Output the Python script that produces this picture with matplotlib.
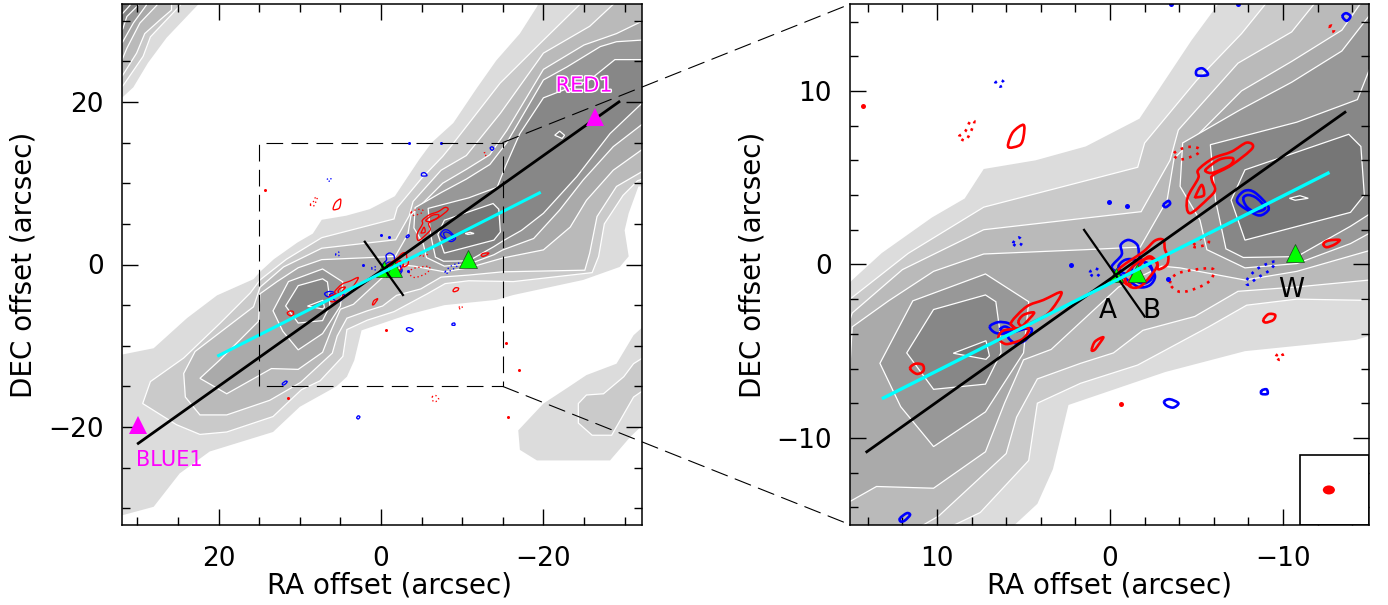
import matplotlib
matplotlib.use("Agg")
import matplotlib.pyplot as plt
from matplotlib.patches import Polygon, Rectangle, Ellipse, ConnectionPatch, PathPatch
from matplotlib.path import Path
from matplotlib.ticker import MultipleLocator, FuncFormatter
import matplotlib.patheffects as pe

# ---- grey map contours (RA, DEC in arcsec) ----
L1_MAIN = [(33,-11.3),(28,-10.3),(23.9,-6.6),(20.2,-3.8),(15.7,-1.8),(14.9,-0.9),(13.2,0.65),(10.3,2.7),(8.4,3.8),(7.3,5.5),(4.3,6),(1.4,6.8),(-1.7,8.4),(-4.7,12.9),(-6.25,15),(-8.9,17.4),(-11.8,21.7),(-14.2,25.1),(-17.1,28.4),(-19.2,31.7),(-19.8,33),(-33,33),(-33,9.6),(-31.7,9.6),(-30.5,6.3),(-30,4.2),(-30.5,1),(-29.4,-0.3),(-24.9,-1.9),(-16.3,-3.75),(-14.2,-4.35),(-7.8,-5),(-3.2,-6.2),(2.4,-8.1),(3.3,-11.8),(4.2,-13.8),(5.5,-15),(10,-17.5),(13.3,-20.6),(21.1,-23),(24.8,-25.7),(28,-29.8),(31.7,-30.8),(33,-31)]
L2_MAIN = [(29.35,-17.1),(28.4,-14.4),(24.3,-11.5),(19.8,-7.2),(16.1,-3.5),(14.9,-1.9),(11.66,0.64),(7.3,3.3),(-1.6,5.6),(-2,7),(-5,10.6),(-7.6,13.3),(-8.9,14.9),(-14.66,22.3),(-19.6,27.2),(-24.5,32),(-25.5,33),(-33,33),(-33,10.8),(-31.6,10.3),(-29.8,8.5),(-27.5,5),(-26.8,1),(-26,-1),(-16.3,-2.1),(-10.8,-2),(-7.9,-2.35),(-5.7,-3.6),(-1.6,-5.8),(1.7,-6.85),(4.2,-8),(4.7,-11.3),(7.5,-14.3),(9.8,-15.4),(13.3,-18.7),(19,-20.6),(22.3,-20.9),(25.2,-19.7)]
L3_MAIN = [(24.3,-13.4),(22.9,-10.7),(15.7,-5.2),(14.9,-2.8),(12,-0.3),(7.3,2),(-1.8,3.04),(-3.47,6),(-3.95,7.75),(-7.4,11.6),(-10.5,13.4),(-14.7,18.6),(-20,26),(-25.7,29.3),(-28.6,32),(-29.5,33),(-33,33),(-33,11),(-32.1,11.4),(-29,9.6),(-26.6,5.9),(-25.7,1.4),(-25.1,-0.7),(-15,-0.9),(-10.8,-1.3),(-7.4,-1.55),(-4.9,-3),(-1.9,-3.8),(-0.2,-5.1),(1.7,-5.7),(4.2,-6.6),(5.4,-8.8),(6,-10.9),(9.9,-14.5),(13.7,-16.7),(19,-18.5),(22.3,-18.5),(24.1,-16.3)]
L4_MAIN = [(22.3,-14),(19.8,-11.7),(15.1,-7),(14.9,-3.6),(12.8,-2.1),(10.2,-0.4),(7.3,0.6),(1.4,0.85),(-1.75,1),(-3.3,3.7),(-3.7,6.1),(-7.6,10),(-10.5,11.7),(-13.4,13.5),(-15.5,16.5),(-20,24),(-25,27),(-29,28.4),(-32.1,29.9),(-33,30),(-33,14),(-32.1,14.1),(-28.6,11.6),(-25.3,7.9),(-23.3,4.6),(-20,1.8),(-15,0.8),(-10.8,-0.4),(-7.8,-0.9),(-4.05,-0.2),(-3,-0.1),(-0.5,-1.3),(3.4,-4.9),(5,-5.5),(6.1,-8),(7.2,-10.8),(10.2,-12.9),(13.5,-12.8),(19,-15.9)]
L5_NE = [(-4.2,7),(-7.5,8.9),(-10.5,10.5),(-13.4,12.3),(-15.5,15),(-20,22.7),(-22.9,24.3),(-27,26.8),(-29,27.4),(-32.1,27.6),(-33,27.6),(-33,17),(-32.1,17.2),(-28.6,14.5),(-24.9,10.4),(-22,6.7),(-18.8,3.2),(-15,1.8),(-13.9,1.2),(-10.8,0.05),(-7.8,-0.2),(-5.6,0.85),(-5.2,2.55),(-4.05,4.5)]
L5_SW = [(13.3,-5.7),(11.4,-2.1),(7.2,-0.55),(4.7,-2.15),(5,-5.1),(7.2,-8.5),(10.2,-10.5),(12.1,-8.2)]
L6_NE = [(-5.8,6.9),(-10.8,8.2),(-14.3,9.5),(-15.3,12),(-17.1,16.1),(-20,20.5),(-25.7,22.7),(-28.8,25.2),(-32.1,25.2),(-33,25.2),(-33,19),(-32.1,19.8),(-28.2,16.1),(-24.1,10.8),(-20,6.3),(-17.3,4.2),(-15,2.9),(-13.9,2.2),(-10.8,0.45),(-7.7,0.4),(-6.7,0.9),(-6.1,3.7)]
L6_SW = [(11.75,-5.1),(10.2,-2.6),(7.2,-1.76),(6.6,-2.15),(6.4,-3.6),(6.3,-5.1),(7.2,-6.9),(10.2,-7.2)]
L7_NE = [(-7.8,5.45),(-13.8,7.5),(-14.5,6.8),(-14.7,4),(-13.9,3),(-7.8,1.4),(-7,3.7)]
L7_SW = [(9.06,-5.12),(7.17,-4.4),(6.97,-5.27),(7.17,-5.47)]
L7_FAR = [(-21.4,15.9),(-22,16.4),(-22.6,15.9),(-22.3,15.5)]
L8_NE = [(-10.37,3.81),(-10.98,3.96),(-11.46,3.81),(-10.7,3.7)]
L1_NW = [(33,33),(22.5,33),(22.5,32),(26.4,27.9),(28.7,24.8),(30.5,21.8),(31.8,20.6),(33,20)]
L2_NW = [(33,33),(24.7,33),(24.7,31.9),(28.4,28),(29.3,25.6),(31.7,22.1),(33,20.5)]
L3_NW = [(33,33),(25.8,33),(25.8,31.3),(27.2,30.1),(29.1,28.4),(30.1,26),(31.8,23.3),(33,22)]
L4_NW = [(33,33),(27.6,33),(27.6,31.9),(29.7,29.7),(31.3,26.6),(31.8,25.4),(33,24)]
L5_NW = [(33,33),(28.9,33),(28.9,31.9),(30.5,29.7),(31.8,27.4),(33,26)]
L6_NW = [(33,33),(29.9,33),(29.9,31.9),(31.3,30.5),(31.8,29),(33,28)]
L7_NW = [(33,33),(30.9,33),(30.9,31.9),(31.8,30.9),(33,30)]
L1_SE = [(-16.9,-20.4),(-17.1,-22.8),(-19.2,-24.1),(-28.2,-24.1),(-30.7,-21.2),(-33,-19),(-33,-7),(-31.1,-8.7),(-29,-12.2),(-25.3,-13.6),(-22.9,-15.2),(-20,-17.1)]
L2_SE = [(-24.3,-17.1),(-24.3,-19.5),(-26,-21),(-28.4,-21),(-31.1,-16.3),(-33,-15),(-33,-11),(-31.1,-12.2),(-29.9,-13.8),(-27.4,-15.9),(-25.3,-16.05)]

grey_layers = [
    (L1_MAIN, '#dcdcdc', False), (L1_NW, '#dcdcdc', False), (L1_SE, '#dcdcdc', False),
    (L2_MAIN, '#cacaca', True), (L2_NW, '#cacaca', True), (L2_SE, '#cacaca', True),
    (L3_MAIN, '#bababa', True), (L3_NW, '#bababa', True),
    (L4_MAIN, '#aaaaaa', True), (L4_NW, '#aaaaaa', True),
    (L5_NE, '#989898', True), (L5_SW, '#989898', True), (L5_NW, '#989898', True),
    (L6_NE, '#878787', True), (L6_SW, '#878787', True), (L6_NW, '#878787', True),
    (L7_NE, '#767676', True), (L7_SW, '#767676', True), (L7_FAR, '#767676', True), (L7_NW, '#767676', True),
    (L8_NE, '#666666', True),
]

# ---- red / blue line emission contours ----
RED_SOLID = [
    [(5.88,6.98),(5.59,7.65),(5.0,8.04),(5.0,7.37),(5.2,6.89),(5.8,6.73)],
    [(-4.47,3.81),(-5.1,4.97),(-5.1,5.45),(-5.97,6.12),(-7.03,6.5),(-7.9,7.02),(-8.23,6.7),(-7.03,5.73),(-5.97,5.16),(-5.88,4.87),(-6.07,4.3),(-5.68,3.81),(-4.62,2.95)],
    [(-5.6,5.54),(-6.36,6.06),(-7.09,6.12),(-6.94,5.73),(-5.97,5.29),(-5.55,5.35)],
    [(-4.95,3.95),(-5.3,4.58),(-5.43,4.0),(-5,3.87)],
    [(-12.33,1.18),(-12.62,1.37),(-13.26,1.41),(-13,1.16),(-12.52,0.99)],
    [(-8.86,-3.2),(-9.15,-2.87),(-9.54,-2.91),(-9.44,-3.2),(-9.01,-3.35)],
    [(5.69,-3.3),(4.82,-2.43),(3.85,-2.05),(2.8,-1.62),(3.57,-2.82),(4.63,-3.4),(5.3,-3.68),(5.59,-3.58)],
    [(5.3,-3.3),(5,-2.91),(4.39,-2.78),(4.82,-3.3),(5.1,-3.55)],
    [(6.45,-4.26),(6.26,-3.87),(5.78,-3.74),(4.72,-3.68),(5,-4.26),(5.59,-4.51),(6.07,-4.58)],
    [(11.56,-6),(11.27,-5.73),(10.83,-5.79),(10.79,-6.14),(11.17,-6.31)],
    [(1.06,-4.93),(0.87,-4.45),(0.39,-4.2),(0.67,-4.64),(0.9,-4.93)],
    [(-0.48,-0.32),(-1.93,0.74),(-2.6,1.37),(-3.08,1.41),(-3.18,0.84),(-3.37,0.45),(-3.28,-0.03),(-2.79,-0.28),(-2.7,0.16),(-2.13,0.41),(-1.16,-0.89),(-1.16,-1.18),(-0.77,-1)],
    [(-0.87,-0.71),(-1.54,0.07),(-2.31,0.36),(-2.73,-0.03),(-2.31,-0.7),(-1.73,-1.28),(-1.16,-1.28)],
]
BLUE_SOLID = [
    [(6.95,-3.58),(6.47,-3.33),(5.88,-3.39),(5.59,-3.68),(6.07,-3.97),(6.65,-3.93)],
    [(6.36,-3.74),(6.07,-3.58),(5.78,-3.74),(6.07,-3.87)],
    [(5.88,-4.06),(4.72,-3.68),(4.53,-3.87),(4.92,-4.39),(5.49,-4.54)],
    [(12.14,-14.63),(11.75,-14.34),(11.56,-14.44),(11.86,-14.76),(12.1,-14.82)],
    [(-3.13,-7.9),(-3.46,-7.77),(-3.95,-8),(-3.66,-8.25),(-3.27,-8.14)],
    [(-8.76,-7.27),(-9.05,-7.2),(-9.1,-7.46),(-8.76,-7.46)],
    [(-5.01,11.2),(-5.34,11.3),(-5.63,11.05),(-5.59,10.9),(-5.03,10.9)],
    [(-13.43,14.3),(-13.64,14.48),(-13.9,14.3),(-13.68,14.04)],
    [(-3.08,3.43),(-3.37,3.66),(-3.47,3.49),(-3.22,3.3)],
    [(-7.36,3.81),(-7.8,4.25),(-8.38,4.14),(-9.15,3.33),(-8.96,2.95),(-8.49,2.85),(-7.51,3.43)],
    [(-7.7,3.81),(-7.99,4.0),(-8.49,3.81),(-8.96,3.24),(-8.38,3.05),(-7.9,3.33)],
    [(-0.1,-0.13),(-0.67,0.55),(-0.62,1.12),(-1.06,1.41),(-1.58,1.12),(-1.7,0.45),(-1.93,0.16),(-2.31,-0.13),(-2.6,-0.7),(-2.31,-1.19),(-1.73,-1.32),(-1.16,-1),(-0.48,-0.5)],
    [(-0.48,-0.13),(-0.87,0.26),(-1.45,0.26),(-1.73,-0.13),(-1.35,-0.5),(-0.77,-0.5)],
    [(-1.27,-0.23),(-1.73,0.16),(-2.31,-0.03),(-2.47,-0.7),(-2.02,-1.09),(-1.45,-0.9)],
    [(2.8,-18.6),(2.6,-18.75),(2.8,-19),(3.0,-18.85)],
]
RED_DOTTED = [
    [(-3.47,-1.09),(-3.96,-0.5),(-5.78,-0.22),(-5.97,-0.6),(-5.59,-1.09),(-4.62,-1.5),(-3.96,-1.56)],
    [(-4.82,1.12),(-5.59,1.7),(-5.68,1.22),(-5.01,1.0)],
    [(-3.7,6.41),(-4.43,6.76),(-5.1,6.7),(-5.1,6.41),(-4.43,6.12),(-3.95,6.06)],
    [(8.72,7.37),(8.37,7.66),(8.09,8.23),(7.84,8.23),(8.09,7.56),(8.37,7.14)],
    [(-9.6,-5.3),(-9.85,-5.08),(-10,-5.3),(-9.8,-5.5)],
    [(-12.7,13.7),(-12.85,13.75),(-12.95,13.5),(-12.8,13.4)],
    [(-6.3,-16.3),(-6.7,-16.1),(-7.1,-16.6),(-6.5,-16.9)],
]
BLUE_DOTTED = [
    [(1.16,-0.47),(0.87,-0.22),(0.58,-0.47),(0.87,-0.74)],
    [(-7.9,-0.9),(-8.57,-0.22),(-9.54,0.17),(-9.25,-0.31),(-8.48,-0.8),(-7.99,-1.17)],
    [(5.6,1.22),(5.3,1.55),(5.07,1.32),(5.3,1.03)],
    [(6.64,10.44),(6.35,10.63),(6.1,10.44),(6.35,10.25)],
]
RED_DOTS_RA = [14.3, -0.65, 11.5, -17, -15.4, -15.6]
RED_DOTS_DEC = [9.15, -8.03, -16.4, -13, -9.6, -18.8]
BLUE_DOTS_RA = [0.06, -1.0, 2.23, -3.38, -3.5, -7.4]
BLUE_DOTS_DEC = [3.58, 3.39, -0.03, -0.84, 15, 15]

# ---- overlay lines and sources ----
BLACK_LEFT_RA, BLACK_LEFT_DEC = [29.9, -29.3], [-22, 20]
BLACK_RIGHT_RA, BLACK_RIGHT_DEC = [14.06, -13.58], [-10.8, 8.77]
PERP_LEFT_RA, PERP_LEFT_DEC = [2.0, -2.7], [2.8, -3.75]
PERP_RIGHT_RA, PERP_RIGHT_DEC = [1.5, -2.0], [1.99, -3.0]
CYAN_LEFT_RA, CYAN_LEFT_DEC = [20, -19.5], [-11.2, 8.8]
CYAN_RIGHT_RA, CYAN_RIGHT_DEC = [13.1, -12.6], [-7.7, 5.26]
SOURCE_RA = [-0.35, -1.56, -10.7]
SOURCE_DEC = [-0.6, -0.5, 0.66]
SOURCE_NAMES = ['A', 'B', 'W']
NAME_RA = [0.1, -2.4, -10.5]
NAME_DEC = [-2.68, -2.68, -1.47]
MAGENTA_RA = [-26.4, 29.9]
MAGENTA_DEC = [18.2, -19.8]
XLABEL = 'RA offset (arcsec)'
YLABEL = 'DEC offset (arcsec)'

W, H = 1388, 605
plt.rcParams['font.family'] = ['DejaVu Sans']
fig = plt.figure(figsize=(W/100, H/100), dpi=100)
axL = fig.add_axes([122/W, (H-525)/H, 520/W, 521/H])
axR = fig.add_axes([850/W, (H-525)/H, 519/W, 521/H])
axL.set_xlim(31.9, -32.14); axL.set_ylim(-32.04, 32.04)
axR.set_xlim(15.03, -14.97); axR.set_ylim(-15.02, 15.01)

def smooth_closed(pts):
    n = len(pts)
    verts = [pts[0]]
    codes = [Path.MOVETO]
    for i in range(n):
        p0, p1, p2, p3 = pts[i-1], pts[i], pts[(i+1) % n], pts[(i+2) % n]
        c1 = (p1[0] + (p2[0]-p0[0])/6, p1[1] + (p2[1]-p0[1])/6)
        c2 = (p2[0] - (p3[0]-p1[0])/6, p2[1] - (p3[1]-p1[1])/6)
        verts += [c1, c2, p2]
        codes += [Path.CURVE4]*3
    return Path(verts, codes)

def draw(ax, lw, dot):
    for pts, col, edge in grey_layers:
        ax.add_patch(Polygon(pts, closed=True, facecolor=col,
                             edgecolor='white' if edge else 'none',
                             linewidth=0.9 if edge else 0, zorder=1))
    for group, col, ls in ((BLUE_SOLID, '#0000ff', '-'), (RED_SOLID, '#ff0000', '-'),
                           (RED_DOTTED, '#ff0000', (0, (1, 2))), (BLUE_DOTTED, '#0000ff', (0, (1, 2)))):
        for pts in group:
            ax.add_patch(PathPatch(smooth_closed(pts), fill=False, edgecolor=col, linewidth=lw,
                                   linestyle=ls, zorder=3))
    ax.plot(RED_DOTS_RA, RED_DOTS_DEC, 'o', color='#ff0000', ms=dot, mew=0, zorder=3)
    ax.plot(BLUE_DOTS_RA, BLUE_DOTS_DEC, 'o', color='#0000ff', ms=dot, mew=0, zorder=3)

draw(axL, 0.95, 2.2)
draw(axR, 1.9, 3.6)

# left panel overlays
axL.plot(BLACK_LEFT_RA, BLACK_LEFT_DEC, color='k', lw=2.0, zorder=5)
axL.plot(PERP_LEFT_RA, PERP_LEFT_DEC, color='k', lw=1.6, zorder=5)
axL.plot(CYAN_LEFT_RA, CYAN_LEFT_DEC, color='#00ffff', lw=2.2, zorder=6)
axL.plot(SOURCE_RA[:2], SOURCE_DEC[:2], '^', color='#00ff00', mec='#204020', mew=0.5, ms=12, zorder=4)
axL.plot(SOURCE_RA[2:], SOURCE_DEC[2:], '^', color='#00ff00', mec='#204020', mew=0.5, ms=13, zorder=4)
axL.plot(MAGENTA_RA, MAGENTA_DEC, '^', color='#ff00ff', mew=0, ms=13, zorder=7)
halo = [pe.withStroke(linewidth=2, foreground='white')]
axL.text(-25, 22, 'RED1', color='#ff00ff', fontsize=15, ha='center', va='center',
         zorder=8, path_effects=halo)
axL.text(26.1, -24, 'BLUE1', color='#ff00ff', fontsize=15, ha='center', va='center', zorder=8)

# zoom box
box_ra = [15, 15, -15, -15, 15]
box_dec = [-15, 15, 15, -15, -15]
axL.plot(box_ra, box_dec, color='k', lw=0.8, ls=(0, (15, 7.5)), zorder=7)
for yy in (15, -15):
    con = ConnectionPatch(xyA=(-15, yy), coordsA=axL.transData, xyB=(15.03, yy),
                          coordsB=axR.transData, color='k', lw=0.8, ls=(0, (15, 7.5)), zorder=9)
    fig.add_artist(con)

# right panel overlays
axR.plot(BLACK_RIGHT_RA, BLACK_RIGHT_DEC, color='k', lw=2.0, zorder=5)
axR.plot(PERP_RIGHT_RA, PERP_RIGHT_DEC, color='k', lw=1.6, zorder=5)
axR.plot(CYAN_RIGHT_RA, CYAN_RIGHT_DEC, color='#00ffff', lw=2.4, zorder=6)
for ra, dec, ms in zip(SOURCE_RA, SOURCE_DEC, [9.5, 12.5, 13.5]):
    axR.plot([ra], [dec], '^', color='#00ff00', mec='#204020', mew=0.5, ms=ms, zorder=4)
for name, ra, dec in zip(SOURCE_NAMES, NAME_RA, NAME_DEC):
    axR.text(ra, dec, name, fontsize=19, ha='center', va='center', zorder=8)
axR.add_patch(Rectangle((-11, -15.02), -3.97, 4.02, facecolor='white', edgecolor='k', lw=1.2, zorder=7))
axR.add_patch(Ellipse((-12.65, -13), 0.7, 0.52, facecolor='#ff0000', edgecolor='none', zorder=8))

fmt = FuncFormatter(lambda v, p: f'{v:.0f}'.replace('-', '\u2212'))
for ax, maj, mnr in ((axL, 20, 5), (axR, 10, 2)):
    ax.xaxis.set_major_locator(MultipleLocator(maj))
    ax.yaxis.set_major_locator(MultipleLocator(maj))
    ax.xaxis.set_minor_locator(MultipleLocator(mnr))
    ax.yaxis.set_minor_locator(MultipleLocator(mnr))
    ax.xaxis.set_major_formatter(fmt)
    ax.yaxis.set_major_formatter(fmt)
    ax.tick_params(which='major', direction='in', top=True, right=True, length=11.5, width=1.0,
                   labelsize=19)
    ax.tick_params(axis='x', which='major', pad=15)
    ax.tick_params(axis='y', which='major', pad=13)
    ax.tick_params(which='minor', direction='in', top=True, right=True, length=5.8, width=1.0)
    for s in ax.spines.values():
        s.set_linewidth(1.1)
        s.set_zorder(10)
    ax.set_xlabel(XLABEL, fontsize=20)
    ax.set_ylabel(YLABEL, fontsize=20)
    ax.set_axisbelow(False)
axL.xaxis.set_label_coords(0.515, -0.09)
axR.xaxis.set_label_coords(0.5, -0.09)
axL.yaxis.set_label_coords(-0.162, 0.5)
axR.yaxis.set_label_coords(-0.160, 0.5)

fig.savefig('out.png', dpi=100)
